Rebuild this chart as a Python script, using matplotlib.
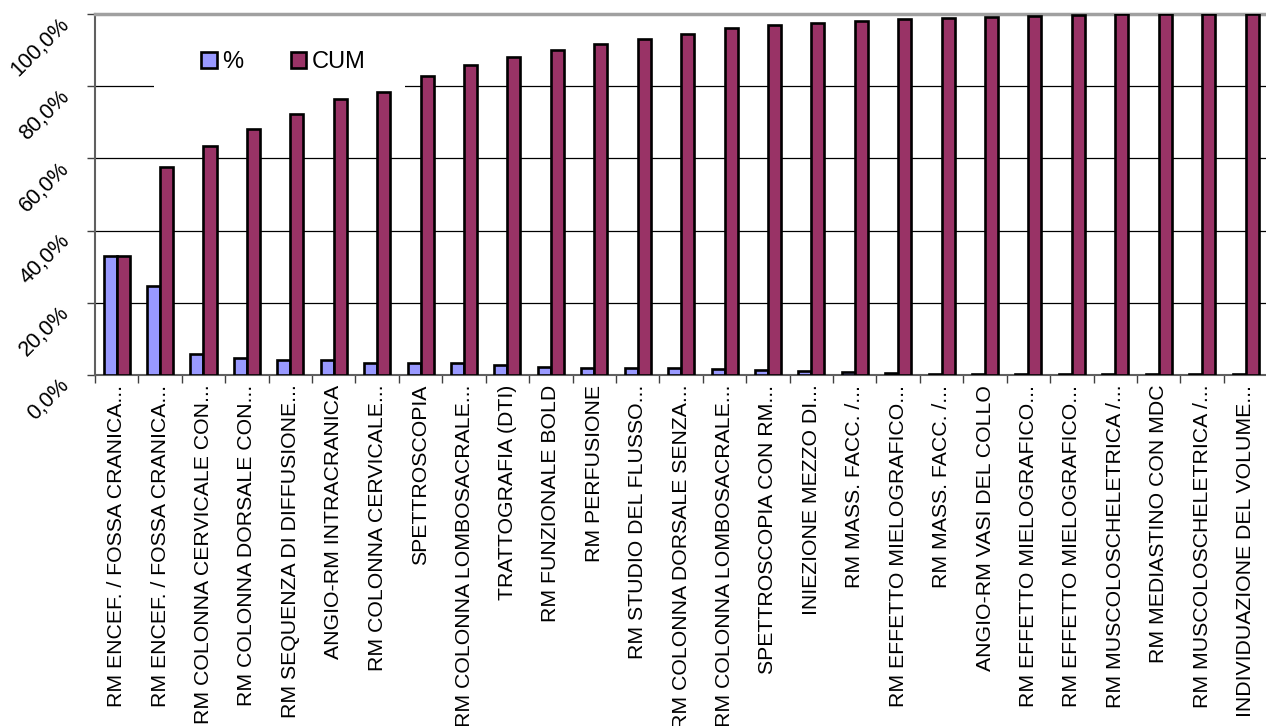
import matplotlib.pyplot as plt
import numpy as np
from matplotlib.patches import Patch, Rectangle
from matplotlib.ticker import FixedLocator

plt.rcParams["font.family"] = ["Liberation Sans", "DejaVu Sans"]

EXAMS = [
    "RM ENCEF. / FOSSA CRANICA...",
    "RM ENCEF. / FOSSA CRANICA...",
    "RM COLONNA CERVICALE CON...",
    "RM COLONNA DORSALE CON...",
    "RM SEQUENZA DI DIFFUSIONE...",
    "ANGIO-RM INTRACRANICA",
    "RM COLONNA CERVICALE...",
    "SPETTROSCOPIA",
    "RM COLONNA LOMBOSACRALE...",
    "TRATTOGRAFIA (DTI)",
    "RM FUNZIONALE BOLD",
    "RM PERFUSIONE",
    "RM STUDIO DEL FLUSSO...",
    "RM COLONNA DORSALE SENZA...",
    "RM COLONNA LOMBOSACRALE...",
    "SPETTROSCOPIA CON RM...",
    "INIEZIONE MEZZO DI...",
    "RM MASS. FACC. /...",
    "RM EFFETTO MIELOGRAFICO...",
    "RM MASS. FACC. /...",
    "ANGIO-RM VASI DEL COLLO",
    "RM EFFETTO MIELOGRAFICO...",
    "RM EFFETTO MIELOGRAFICO...",
    "RM MUSCOLOSCHELETRICA /...",
    "RM MEDIASTINO CON MDC",
    "RM MUSCOLOSCHELETRICA /...",
    "INDIVIDUAZIONE DEL VOLUME...",
]

PCT = [32.9, 24.7, 5.8, 4.7, 4.2, 4.2, 3.3, 3.3, 3.2, 2.8, 2.3, 1.9, 1.9, 1.8,
       1.7, 1.3, 1.0, 0.8, 0.5, 0.4, 0.4, 0.3, 0.3, 0.3, 0.3, 0.3, 0.2]
CUM = [32.9, 57.5, 63.3, 68.1, 72.3, 76.4, 78.5, 82.9, 85.8, 88.2, 90.1, 91.6,
       93.1, 94.6, 96.0, 96.9, 97.5, 98.1, 98.5, 98.8, 99.2, 99.5, 99.6, 99.9,
       100.0, 100.0, 100.0]

Y_TICKS = [0, 20, 40, 60, 80, 100]
Y_LABELS = ["0,0%", "20,0%", "40,0%", "60,0%", "80,0%", "100,0%"]

COL_PCT = "#9999FF"
COL_CUM = "#993366"
EDGE_LW = 1.9

fig = plt.figure(figsize=(12.66, 7.26), dpi=100)
ax = fig.add_axes([0.075, 0.4835, 0.926, 0.4972])

x = np.arange(len(EXAMS))
w = 0.3
ax.bar(x - w / 2, PCT, width=w, color=COL_PCT, edgecolor="black",
       linewidth=EDGE_LW, zorder=3)
ax.bar(x + w / 2, CUM, width=w, color=COL_CUM, edgecolor="black",
       linewidth=EDGE_LW, zorder=3)

ax.set_xlim(-0.5, len(EXAMS) - 0.5)
ax.set_ylim(0, 100)

ax.set_axisbelow(True)
ax.yaxis.grid(True, color="black", linewidth=0.9)
ax.set_yticks(Y_TICKS)
ax.set_yticklabels(Y_LABELS, fontsize=15.5, rotation=45, ha="right",
                   va="top", rotation_mode="anchor")
ax.tick_params(axis="y", length=6, width=1, color="#404040", pad=20)

ax.set_xticks(x)
ax.set_xticklabels(EXAMS, fontsize=15.3, rotation=90, ha="center", va="top")
ax.tick_params(axis="x", which="major", length=0, pad=7)
ax.xaxis.set_minor_locator(FixedLocator(np.arange(-0.5, len(EXAMS), 1.0)))
ax.tick_params(axis="x", which="minor", length=6, width=1, color="#404040")

for side in ("left", "bottom"):
    ax.spines[side].set_color("#606060")
    ax.spines[side].set_linewidth(1.5)
ax.spines["top"].set_color("#A0A0A0")
ax.spines["top"].set_linewidth(2.5)
ax.spines["right"].set_visible(False)

# white box behind the legend hides the grid line
ax.add_patch(Rectangle((0.0503, 0.795), 0.214, 0.15, transform=ax.transAxes,
                       facecolor="white", edgecolor="none", zorder=1.5))

handles = [Patch(facecolor=COL_PCT, edgecolor="black", linewidth=EDGE_LW),
           Patch(facecolor=COL_CUM, edgecolor="black", linewidth=EDGE_LW)]
ax.legend(handles, ["%", "CUM"], loc="center", bbox_to_anchor=(0.161, 0.866),
          ncol=2, frameon=False, fontsize=17, handlelength=0.65,
          handleheight=0.65, handletextpad=0.25, columnspacing=2.0)

fig.savefig("out.png", dpi=100)
